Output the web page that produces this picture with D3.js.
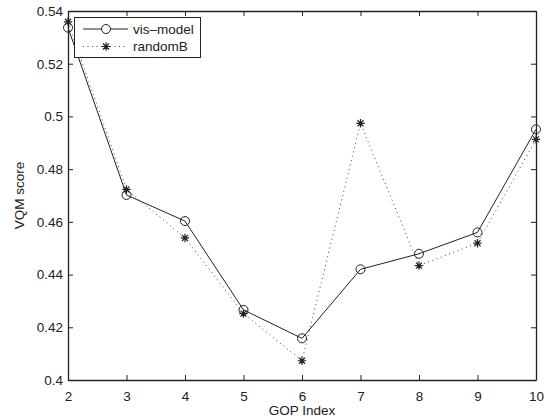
<!DOCTYPE html>
<html>
<head>
<meta charset="utf-8">
<script src="https://cdn.jsdelivr.net/npm/d3@7"></script>
<style>
body{margin:0;background:#fff;}
text{font-family:"Liberation Sans",Arial,sans-serif;fill:#222;}
</style>
</head>
<body>
<svg id="svg" width="552" height="419"></svg>
<script>
var gopIndex=[2,3,4,5,6,7,8,9,10];
var visModel=[0.5337,0.4702,0.4603,0.4266,0.4158,0.4420,0.4479,0.4560,0.4951];
var randomB=[0.5359,0.4723,0.4539,0.4252,0.4073,0.4974,0.4434,0.4519,0.4913];
var yTicks=[0.4,0.42,0.44,0.46,0.48,0.5,0.52,0.54];
var seriesNames=["vis\u2013model","randomB"];

var plotLeft=68,plotTop=11,plotRight=536,plotBottom=380;
var fontSize="13.5px";

var svg=d3.select("#svg");

var x=d3.scaleLinear().domain([2,10]).range([plotLeft,plotRight]);
var y=d3.scaleLinear().domain([0.4,0.54]).range([plotBottom,plotTop]);

//axes, matlab style: ticks inside, box all round
svg.append("g").attr("transform","translate(0,"+plotBottom+")")
    .call(d3.axisBottom(x).tickValues(gopIndex).tickSizeInner(-5).tickSizeOuter(0).tickPadding(11).tickFormat(d3.format("d")))
svg.append("g").attr("transform","translate(0,"+plotTop+")")
    .call(d3.axisTop(x).tickValues(gopIndex).tickSizeInner(-5).tickSizeOuter(0).tickFormat(""))
svg.append("g").attr("transform","translate("+plotLeft+",0)")
    .call(d3.axisLeft(y).tickValues(yTicks).tickSizeInner(-5).tickSizeOuter(0).tickPadding(5).tickFormat(d=>d3.format("")(+d.toFixed(2))))
svg.append("g").attr("transform","translate("+plotRight+",0)")
    .call(d3.axisRight(y).tickValues(yTicks).tickSizeInner(-5).tickSizeOuter(0).tickFormat(""))

svg.selectAll(".domain").attr("stroke","#222").attr("stroke-width",1.3)
svg.selectAll(".tick line").attr("stroke","#222").attr("stroke-width",1)
svg.selectAll(".tick text").style("font-size",fontSize).style("fill","#222")

svg.append("text")
    .attr("x",(plotLeft+plotRight)/2).attr("y",415)
    .attr("text-anchor","middle").style("font-size",fontSize)
    .text("GOP Index")
svg.append("text")
    .attr("transform","translate(24,"+((plotTop+plotBottom)/2)+") rotate(-90)")
    .attr("text-anchor","middle").style("font-size",fontSize)
    .text("VQM score")

var line=d3.line().x((d,i)=>x(gopIndex[i])).y(d=>y(d));

svg.append("path").datum(randomB)
    .attr("d",line).attr("fill","none")
    .attr("stroke","#444").attr("stroke-width",1).attr("stroke-dasharray","1,3.5")
svg.append("path").datum(visModel)
    .attr("d",line).attr("fill","none")
    .attr("stroke","#222").attr("stroke-width",1)

function star(g,cx,cy,r){
    var p="M"+(cx-r)+","+cy+"H"+(cx+r)+"M"+cx+","+(cy-r)+"V"+(cy+r);
    var k=r*0.72;
    p+="M"+(cx-k)+","+(cy-k)+"L"+(cx+k)+","+(cy+k)+"M"+(cx-k)+","+(cy+k)+"L"+(cx+k)+","+(cy-k);
    g.append("path").attr("d",p).attr("stroke","#222").attr("stroke-width",1.2).attr("fill","none");
}

svg.selectAll("circle.vis").data(visModel).enter().append("circle")
    .attr("class","vis")
    .attr("cx",(d,i)=>x(gopIndex[i])).attr("cy",d=>y(d)).attr("r",4.5)
    .attr("fill","none").attr("stroke","#222").attr("stroke-width",1)

var stars=svg.append("g");
randomB.forEach((d,i)=>star(stars,x(gopIndex[i]),y(d),4.2));

//legend
var legend=svg.append("g");
legend.append("rect").attr("x",74.5).attr("y",17.5).attr("width",126).attr("height",40)
    .attr("fill","#fff").attr("stroke","#222").attr("stroke-width",1)
legend.append("line").attr("x1",83).attr("x2",128).attr("y1",29).attr("y2",29).attr("stroke","#222")
legend.append("circle").attr("cx",106).attr("cy",29).attr("r",4.5).attr("fill","#fff").attr("stroke","#222")
legend.append("line").attr("x1",83).attr("x2",128).attr("y1",46.5).attr("y2",46.5)
    .attr("stroke","#444").attr("stroke-dasharray","1,3.5")
star(legend,106,46.5,4.2);
legend.selectAll("text.lg").data(seriesNames).enter().append("text")
    .attr("class","lg")
    .attr("x",133).attr("y",(d,i)=>29+i*17.5).attr("dy","0.35em")
    .style("font-size",fontSize)
    .text(d=>d)
</script>
</body>
</html>
